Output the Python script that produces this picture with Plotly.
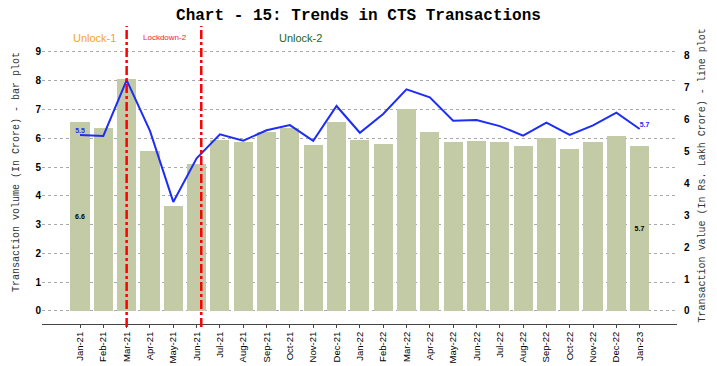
import plotly.graph_objects as go

months = ["Jan-21", "Feb-21", "Mar-21", "Apr-21", "May-21", "Jun-21", "Jul-21", "Aug-21",
          "Sep-21", "Oct-21", "Nov-21", "Dec-21", "Jan-22", "Feb-22", "Mar-22", "Apr-22",
          "May-22", "Jun-22", "Jul-22", "Aug-22", "Sep-22", "Oct-22", "Nov-22", "Dec-22", "Jan-23"]
volume = [6.57, 6.36, 8.06, 5.56, 3.65, 5.10, 5.94, 5.87, 6.23, 6.35, 5.76, 6.58, 5.94,
          5.80, 7.01, 6.22, 5.88, 5.92, 5.87, 5.74, 6.02, 5.61, 5.86, 6.07, 5.72]
value = [5.52, 5.49, 7.24, 5.65, 3.42, 4.79, 5.54, 5.34, 5.67, 5.83, 5.34, 6.43, 5.59,
         6.18, 6.95, 6.70, 5.97, 5.99, 5.80, 5.50, 5.91, 5.52, 5.82, 6.22, 5.71]
left_ticks = list(range(0, 10))
right_ticks = list(range(0, 9))
phase_lines = [2.0, 5.2]

idx = list(range(len(months)))
bar_text = ["" for _ in months]
bar_text[0] = f"<b>{volume[0]:.1f}</b>"
bar_text[-1] = f"<b>{volume[-1]:.1f}</b>"
line_text = ["" for _ in months]
line_text[0] = f"<b>{value[0]:.1f}</b>"
line_text[-1] = f"<b>{value[-1]:.1f}</b>"
line_pos = ["top center"] * len(months)
line_pos[-1] = "top right"

fig = go.Figure()
fig.add_trace(go.Bar(
    x=idx, y=volume, width=0.82, marker=dict(color="rgb(195,203,166)", line=dict(width=0)),
    text=bar_text, textposition="inside", insidetextanchor="middle",
    textfont=dict(family="Liberation Sans", size=7, color="black"), textangle=0,
    yaxis="y", showlegend=False, hoverinfo="skip"))
fig.add_trace(go.Scatter(
    x=idx, y=value, mode="lines+text", line=dict(color="rgb(30,45,245)", width=2),
    text=line_text, textposition=line_pos,
    textfont=dict(family="Liberation Sans", size=7, color="rgb(30,45,245)"),
    yaxis="y2", showlegend=False, hoverinfo="skip"))

for xv in phase_lines:
    fig.add_shape(type="line", xref="x", yref="paper", x0=xv, x1=xv, y0=-0.01, y1=1.0,
                  line=dict(color="red", width=2.5, dash="dashdot"))

ann_font = "Liberation Sans"
fig.add_annotation(x=0.64, y=0.96, xref="x", yref="paper", yanchor="middle", text="Unlock-1",
                   showarrow=False, font=dict(family=ann_font, size=11, color="rgb(245,165,30)"))
fig.add_annotation(x=3.65, y=0.96, xref="x", yref="paper", yanchor="middle", text="Lockdown-2",
                   showarrow=False, font=dict(family=ann_font, size=8, color="rgb(240,30,40)"))
fig.add_annotation(x=9.44, y=0.96, xref="x", yref="paper", yanchor="middle", text="Unlock-2",
                   showarrow=False, font=dict(family=ann_font, size=11, color="rgb(30,100,30)"))

mono = "Liberation Mono"
fig.add_annotation(x=-0.041, y=0.51, xref="paper", yref="paper", textangle=-90,
                   text="Transaction volume (In Crore) - bar plot", showarrow=False,
                   xanchor="center", yanchor="middle",
                   font=dict(family=mono, size=10, color="#333"))
fig.add_annotation(x=1.04, y=0.5, xref="paper", yref="paper", textangle=-90,
                   text="Transaction value (In Rs. Lakh Crore) - line plot", showarrow=False,
                   xanchor="center", yanchor="middle",
                   font=dict(family=mono, size=10, color="#333"))

fig.update_layout(
    width=717, height=366,
    margin=dict(l=42, r=40, t=26, b=42, autoexpand=False),
    paper_bgcolor="white", plot_bgcolor="white",
    title=dict(text="<b>Chart - 15: Trends in CTS Transactions</b>", x=0.5, xanchor="center",
               y=0.96, yanchor="middle", font=dict(family=mono, size=16, color="black")),
    bargap=0,
    xaxis=dict(range=[-1.63, 25.6], tickvals=idx, ticktext=months, tickangle=-90,
               tickfont=dict(family="Liberation Sans", size=9.5, color="black"),
               showgrid=False, zeroline=False, showline=True, linecolor="#444", linewidth=1,
               ticks="outside", ticklen=3, tickcolor="#444", automargin=False),
    yaxis=dict(range=[-0.452, 9.90], tickvals=left_ticks,
               tickfont=dict(family="Liberation Sans", size=10, color="black", weight="bold"),
               showgrid=True, gridcolor="#aaa", griddash="dot", gridwidth=1,
               zeroline=False, showline=False, ticks="", automargin=False),
    yaxis2=dict(range=[-0.41, 8.94], tickvals=right_ticks, overlaying="y", side="right",
                tickfont=dict(family="Liberation Sans", size=10, color="black", weight="bold"),
                showgrid=False, zeroline=False, showline=False, ticks="", ticklabelstandoff=6,
                automargin=False),
)

fig.write_html("out.html", config={"displayModeBar": False},
               post_script="document.body.style.margin='0';")
